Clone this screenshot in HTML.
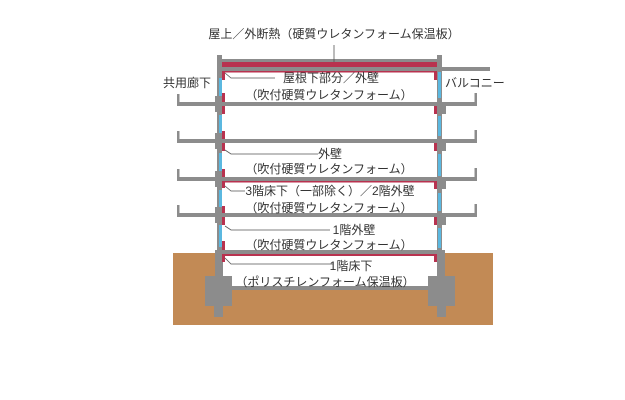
<!DOCTYPE html>
<html><head><meta charset="utf-8"><style>
body{margin:0;background:#fff;}
svg{display:block}
text{font-family:"Liberation Sans","Noto Sans CJK JP",sans-serif;fill:#333;font-size:12px}
</style></head><body>
<svg width="625" height="400" viewBox="0 0 625 400">
<!-- ground -->
<rect x="173" y="253" width="320" height="72" fill="#c28a55"/>
<rect x="222" y="256" width="216" height="32" fill="#fff"/>
<rect x="222" y="286" width="216" height="4" fill="#8c8c8c"/>
<!-- footings -->
<rect x="205" y="276" width="27" height="30" fill="#8c8c8c"/>
<rect x="214" y="300" width="9" height="17" fill="#8c8c8c"/>
<rect x="428" y="276" width="27" height="30" fill="#8c8c8c"/>
<rect x="437" y="300" width="9" height="17" fill="#8c8c8c"/>
<!-- columns -->
<rect x="217" y="55" width="5" height="200" fill="#8c8c8c"/>
<rect x="437" y="55" width="5" height="200" fill="#8c8c8c"/>
<rect x="215" y="250" width="8" height="35" fill="#8c8c8c"/>
<rect x="437" y="250" width="8" height="35" fill="#8c8c8c"/>
<!-- glass lines -->
<g fill="#5bb8e0">
<rect x="219" y="78" width="3" height="18"/><rect x="219" y="115" width="3" height="20"/>
<rect x="219" y="153" width="3" height="23"/><rect x="219" y="190" width="3" height="20"/>
<rect x="219" y="225" width="3" height="22"/>
<rect x="438" y="72" width="3" height="26"/><rect x="438" y="116" width="3" height="20"/>
<rect x="438" y="154" width="3" height="22"/><rect x="438" y="193" width="3" height="18"/>
<rect x="438" y="228" width="3" height="20"/>
</g>
<!-- roof -->
<rect x="220" y="59" width="220" height="3" fill="#8c8c8c"/>
<rect x="222" y="62" width="215" height="5" fill="#b8324f"/>
<rect x="217" y="67" width="273" height="4" fill="#8c8c8c"/>
<rect x="222" y="71" width="215" height="1.5" fill="#b8324f"/>
<!-- floors -->
<g fill="#8c8c8c">
<rect x="177" y="102" width="300" height="4"/><rect x="177" y="94" width="2.5" height="12"/><rect x="474.5" y="93" width="2.5" height="13"/>
<rect x="177" y="139" width="300" height="4"/><rect x="177" y="131" width="2.5" height="12"/><rect x="474.5" y="130" width="2.5" height="13"/>
<rect x="177" y="177" width="300" height="4"/><rect x="177" y="169" width="2.5" height="12"/><rect x="474.5" y="168" width="2.5" height="13"/>
<rect x="177" y="213" width="300" height="4"/><rect x="177" y="205" width="2.5" height="12"/><rect x="474.5" y="204" width="2.5" height="13"/>
<rect x="217" y="250" width="225" height="4"/>
<rect x="436" y="102" width="10" height="12"/><rect x="436" y="139" width="10" height="12"/>
<rect x="436" y="177" width="10" height="12"/><rect x="436" y="213" width="10" height="12"/>
<rect x="215" y="96" width="7" height="16"/><rect x="215" y="133" width="7" height="16"/>
<rect x="215" y="171" width="7" height="16"/><rect x="215" y="207" width="7" height="16"/>
</g>
<!-- red insulation -->
<g fill="#b8324f">
<rect x="222" y="72" width="3" height="8"/><rect x="434" y="72" width="3" height="8"/>
<rect x="222" y="93" width="3" height="9"/><rect x="222" y="106" width="3" height="8"/>
<rect x="222" y="131" width="3" height="8"/><rect x="222" y="143" width="3" height="8"/>
<rect x="222" y="169" width="3" height="8"/><rect x="222" y="181" width="3" height="7"/>
<rect x="222" y="206" width="3" height="7"/><rect x="222" y="217" width="3" height="8"/>
<rect x="222" y="241" width="3" height="9"/>
<rect x="434" y="106" width="3" height="8"/><rect x="434" y="143" width="3" height="8"/>
<rect x="434" y="181" width="3" height="7"/><rect x="434" y="217" width="3" height="8"/>
<rect x="222" y="181" width="215" height="1.5"/>
<rect x="434" y="181" width="3" height="8"/>
<rect x="222" y="254" width="215" height="2"/>
<rect x="222" y="254" width="3" height="8"/><rect x="434" y="254" width="3" height="8"/>
</g>
<!-- leader lines -->
<g stroke="#555" stroke-width="0.8" fill="none">
<line x1="334" y1="45" x2="334" y2="62"/>
<polyline points="225,73 231,78 275,78"/>
<polyline points="225,150 231,154 318,154"/>
<polyline points="225,186 231,191 245,191"/>
<polyline points="225,226 231,230 330,230"/>
<polyline points="225,258 231,264 333,264"/>
</g>
<!-- labels -->
<text x="334" y="38" text-anchor="middle" font-size="13">屋上／外断熱（硬質ウレタンフォーム保温板）</text>
<text x="163" y="87">共用廊下</text>
<text x="445" y="87">バルコニー</text>
<text x="331" y="82" text-anchor="middle">屋根下部分／外壁</text>
<text x="329" y="99" text-anchor="middle">（吹付硬質ウレタンフォーム）</text>
<text x="330" y="158" text-anchor="middle">外壁</text>
<text x="329" y="173" text-anchor="middle">（吹付硬質ウレタンフォーム）</text>
<text x="330" y="195" text-anchor="middle">3階床下（一部除く）／2階外壁</text>
<text x="329" y="212" text-anchor="middle">（吹付硬質ウレタンフォーム）</text>
<text x="354" y="234" text-anchor="middle">1階外壁</text>
<text x="329" y="249" text-anchor="middle">（吹付硬質ウレタンフォーム）</text>
<text x="351" y="270" text-anchor="middle">1階床下</text>
<text x="325" y="286" text-anchor="middle">（ポリスチレンフォーム保温板）</text>
</svg>
</body></html>
